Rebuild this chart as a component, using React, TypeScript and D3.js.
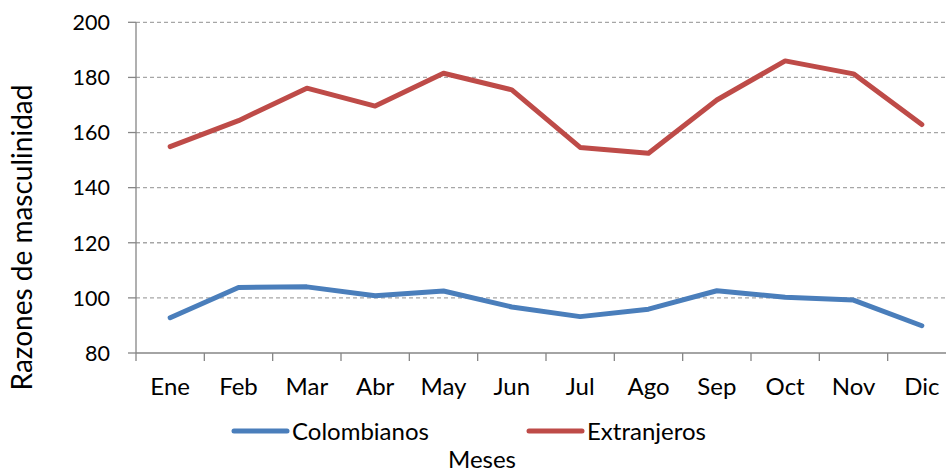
import React from "react";
import * as d3 from "d3";

const months = ["Ene", "Feb", "Mar", "Abr", "May", "Jun", "Jul", "Ago", "Sep", "Oct", "Nov", "Dic"];
const colombianos = [92.8, 103.8, 104.0, 100.8, 102.5, 96.7, 93.2, 95.9, 102.6, 100.2, 99.2, 89.9];
const extranjeros = [154.9, 164.3, 176.1, 169.6, 181.5, 175.5, 154.6, 152.5, 171.8, 186.0, 181.3, 162.9];
const yTicks = [80, 100, 120, 140, 160, 180, 200];
const seriesNames = ["Colombianos", "Extranjeros"];
const seriesColors = ["#4A7EBB", "#BE4B48"];

const W = 946;
const H = 472;
const FONT = "Lato, 'Open Sans', sans-serif";

export default function App() {
  const left = 136;
  const right = 956;
  const top = 22.3;
  const bottom = 353;

  const x = d3.scaleBand<string>().domain(months).range([left, right]).padding(0);
  const y = d3.scaleLinear().domain([80, 200]).range([bottom, top]);

  const line = d3
    .line<number>()
    .x((_, i) => (x(months[i]) as number) + x.bandwidth() / 2)
    .y((d) => y(d));

  const series = [colombianos, extranjeros];
  const tickEdges = d3.range(months.length + 1).map((i) => left + i * x.bandwidth());

  return (
    <svg
      width={W}
      height={H}
      style={{ position: "absolute", left: 0, top: 0, background: "#fff" }}
      fontFamily={FONT}
    >
      {/* gridlines */}
      {yTicks.slice(1).map((t) => (
        <line
          key={t}
          x1={left}
          x2={right}
          y1={y(t)}
          y2={y(t)}
          stroke="#A6A6A6"
          strokeWidth={1.3}
          strokeDasharray="4 3"
        />
      ))}
      {/* y axis */}
      <line x1={left} x2={left} y1={top} y2={bottom} stroke="#868686" strokeWidth={1.3} />
      {yTicks.map((t) => (
        <g key={t}>
          <line x1={left - 8} x2={left} y1={y(t)} y2={y(t)} stroke="#868686" strokeWidth={1.3} />
          <text x={110} y={y(t)} dy="0.36em" textAnchor="end" fontSize={21.5} fill="#000">
            {t}
          </text>
        </g>
      ))}
      {/* x axis */}
      <line x1={left} x2={right} y1={bottom} y2={bottom} stroke="#868686" strokeWidth={1.3} />
      {tickEdges.map((tx, i) => (
        <line key={i} x1={tx} x2={tx} y1={bottom} y2={bottom + 8} stroke="#868686" strokeWidth={1.3} />
      ))}
      {months.map((m) => (
        <text
          key={m}
          x={(x(m) as number) + x.bandwidth() / 2}
          y={395}
          textAnchor="middle"
          fontSize={24}
          fill="#000"
        >
          {m}
        </text>
      ))}
      {/* lines */}
      {series.map((s, i) => (
        <path
          key={i}
          d={line(s) || ""}
          fill="none"
          stroke={seriesColors[i]}
          strokeWidth={5}
          strokeLinejoin="round"
          strokeLinecap="round"
        />
      ))}
      {/* legend */}
      {seriesNames.map((n, i) => {
        const lx = i === 0 ? 234 : 529;
        return (
          <g key={n}>
            <line
              x1={lx}
              x2={lx + 53}
              y1={431}
              y2={431}
              stroke={seriesColors[i]}
              strokeWidth={5}
              strokeLinecap="round"
            />
            <text x={lx + 58} y={431} dy="0.36em" fontSize={24} fill="#000">
              {n}
            </text>
          </g>
        );
      })}
      {/* axis titles */}
      <text x={482} y={468} textAnchor="middle" fontSize={24} fill="#000">
        Meses
      </text>
      <text
        transform={`translate(32, 237.5) rotate(-90)`}
        textAnchor="middle"
        fontSize={28}
        fill="#000"
      >
        Razones de masculinidad
      </text>
    </svg>
  );
}
